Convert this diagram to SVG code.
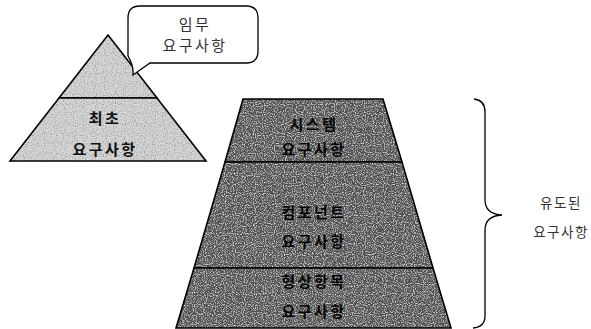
<svg xmlns="http://www.w3.org/2000/svg" width="591" height="329" viewBox="0 0 591 329">
<style>
  .lbl { font-family: "Noto Sans CJK KR", "Noto Sans", sans-serif; font-size: 15px; fill: #111; text-anchor: middle; letter-spacing: 2.5px; }
  .thin { font-weight: 400; fill: #333; }
  .bold { font-weight: 700; }
  .dark { font-weight: 700; fill: #050505; }
  .edge { fill: none; stroke: #000; stroke-width: 1.6; }
  .light { fill: #d8d8d8; filter: url(#spLight); }
  .darkf { fill: #545454; filter: url(#spDark); }
</style>
<defs>
  <filter id="spLight" x="0" y="0" width="100%" height="100%">
    <feTurbulence type="fractalNoise" baseFrequency="0.9" numOctaves="1" seed="2" result="n"/>
    <feColorMatrix in="n" type="matrix" values="0 0 0 0 0.3  0 0 0 0 0.3  0 0 0 0 0.3  3 0 0 0 -1.35" result="dots"/>
    <feComposite in="dots" in2="SourceGraphic" operator="in" result="d2"/>
    <feMerge><feMergeNode in="SourceGraphic"/><feMergeNode in="d2"/></feMerge>
  </filter>
  <filter id="spDark" x="0" y="0" width="100%" height="100%">
    <feTurbulence type="fractalNoise" baseFrequency="0.9" numOctaves="1" seed="5" result="n"/>
    <feColorMatrix in="n" type="matrix" values="0 0 0 0 0.8  0 0 0 0 0.8  0 0 0 0 0.8  3 0 0 0 -1.45" result="w"/>
    <feColorMatrix in="n" type="matrix" values="0 0 0 0 0.08  0 0 0 0 0.08  0 0 0 0 0.08  -3 0 0 0 1.6" result="b"/>
    <feComposite in="w" in2="SourceGraphic" operator="in" result="w2"/>
    <feComposite in="b" in2="SourceGraphic" operator="in" result="b2"/>
    <feMerge><feMergeNode in="SourceGraphic"/><feMergeNode in="w2"/><feMergeNode in="b2"/></feMerge>
  </filter>
</defs>

<g id="pyramid-top">
  <polygon class="light" points="108,35 157,98 59,98"/>
  <polygon class="edge" points="108,35 157,98 59,98"/>
</g>
<g id="pyramid-bottom">
  <polygon class="light" points="59,98 157,98 206,161 10,161"/>
  <polygon class="edge" points="59,98 157,98 206,161 10,161"/>
  <text class="lbl bold" x="105" y="124">최초</text>
  <text class="lbl bold" x="105" y="155">요구사항</text>
</g>

<g id="callout">
  <path d="M140 6 H246 Q258 6 258 18 V51 Q258 63 246 63 H150 L133 75 Q134 66 128 56 V18 Q128 6 140 6 Z" fill="#fff" stroke="#000" stroke-width="1.3"/>
  <text class="lbl thin" x="195" y="30">임무</text>
  <text class="lbl thin" x="195" y="51">요구사항</text>
</g>

<g id="system-req">
  <polygon class="darkf" points="243,99 383,99 402,162 225,162"/>
  <polygon class="edge" points="243,99 383,99 402,162 225,162"/>
  <text class="lbl dark" x="314" y="130">시스템</text>
  <text class="lbl dark" x="314" y="155">요구사항</text>
</g>
<g id="component-req">
  <polygon class="darkf" points="225,162 402,162 433,268 194,268"/>
  <polygon class="edge" points="225,162 402,162 433,268 194,268"/>
  <text class="lbl dark" x="314" y="218">컴포넌트</text>
  <text class="lbl dark" x="314" y="247">요구사항</text>
</g>
<g id="ci-req">
  <polygon class="darkf" points="194,268 433,268 451,328 176,328"/>
  <polygon class="edge" points="194,268 433,268 451,328 176,328"/>
  <text class="lbl dark" x="314" y="287">형상항목</text>
  <text class="lbl dark" x="314" y="317">요구사항</text>
</g>

<g id="connectors">
  <path d="M474 99 Q485 100 485 112 V200 Q485 214 502 215 Q485 216 485 230 V316 Q485 327 473 328" fill="none" stroke="#000" stroke-width="1.3"/>
</g>

<g id="derived-label">
  <text class="lbl thin" x="561" y="208" style="font-size:13.5px;letter-spacing:1.5px">유도된</text>
  <text class="lbl thin" x="561" y="237" style="font-size:13.5px;letter-spacing:1.5px">요구사항</text>
</g>
</svg>
